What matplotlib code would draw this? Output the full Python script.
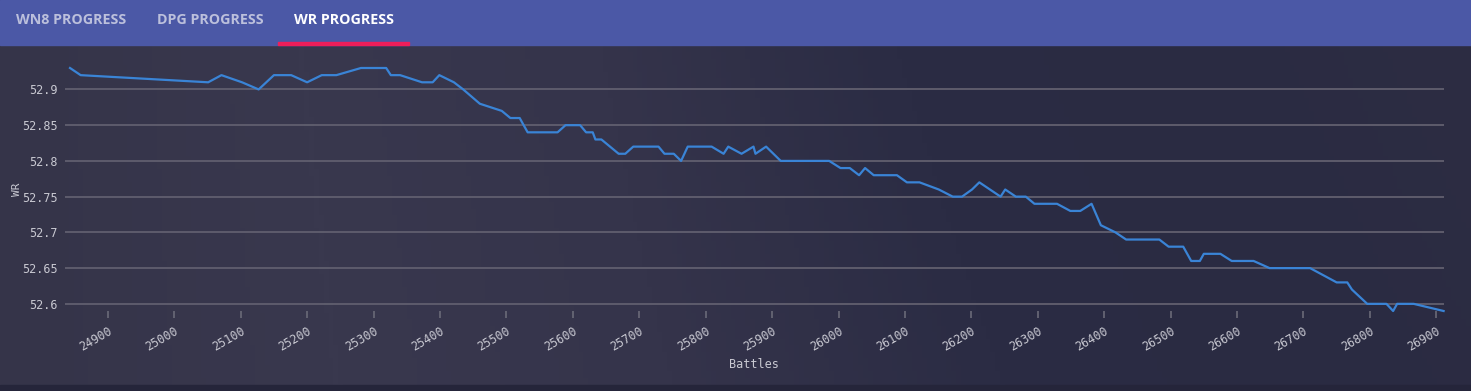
import numpy as np
import matplotlib
matplotlib.use("Agg")
import matplotlib.pyplot as plt
from matplotlib.colors import LinearSegmentedColormap

# WR progress readings (battles, win rate %)
battles = [24843, 24859, 25051, 25071, 25102, 25127, 25150, 25176, 25200, 25222,
           25244, 25281, 25319, 25326, 25340, 25373, 25389, 25399, 25421, 25435,
           25460, 25493, 25506, 25520, 25532, 25577, 25589, 25611, 25620, 25630,
           25634, 25643, 25669, 25679, 25691, 25729, 25738, 25752, 25763, 25773,
           25809, 25827, 25834, 25854, 25872, 25875, 25891, 25913, 25986, 26003,
           26017, 26031, 26040, 26053, 26088, 26103, 26122, 26151, 26172, 26186,
           26201, 26212, 26244, 26251, 26267, 26282, 26295, 26329, 26349, 26364,
           26381, 26395, 26417, 26433, 26483, 26497, 26519, 26531, 26544, 26550,
           26575, 26592, 26625, 26649, 26710, 26730, 26750, 26766, 26773, 26796,
           26825, 26835, 26841, 26866, 26911]
wr = [52.93, 52.92, 52.91, 52.92, 52.91, 52.90, 52.92, 52.92, 52.91, 52.92,
      52.92, 52.93, 52.93, 52.92, 52.92, 52.91, 52.91, 52.92, 52.91, 52.90,
      52.88, 52.87, 52.86, 52.86, 52.84, 52.84, 52.85, 52.85, 52.84, 52.84,
      52.83, 52.83, 52.81, 52.81, 52.82, 52.82, 52.81, 52.81, 52.80, 52.82,
      52.82, 52.81, 52.82, 52.81, 52.82, 52.81, 52.82, 52.80, 52.80, 52.79,
      52.79, 52.78, 52.79, 52.78, 52.78, 52.77, 52.77, 52.76, 52.75, 52.75,
      52.76, 52.77, 52.75, 52.76, 52.75, 52.75, 52.74, 52.74, 52.73, 52.73,
      52.74, 52.71, 52.70, 52.69, 52.69, 52.68, 52.68, 52.66, 52.66, 52.67,
      52.67, 52.66, 52.66, 52.65, 52.65, 52.64, 52.63, 52.63, 52.62, 52.60,
      52.60, 52.59, 52.60, 52.60, 52.59]

x_ticks = list(range(24900, 27000, 100))
y_ticks = [52.6, 52.65, 52.7, 52.75, 52.8, 52.85, 52.9]
y_labels = ["52.6", "52.65", "52.7", "52.75", "52.8", "52.85", "52.9"]
tabs = ["WN8 PROGRESS", "DPG PROGRESS", "WR PROGRESS"]

W, H = 1471, 391
fig = plt.figure(figsize=(W / 100, H / 100), dpi=100)

# page background: dark, slightly cloudy gradient
bg = fig.add_axes([0, 0, 1, 1])
bg_cmap = LinearSegmentedColormap.from_list(
    "bg", ["#353449", "#39384e", "#35344b", "#2b2c44", "#2a2b42", "#2d2d43"])
gx = np.linspace(0, 1, 300)
gy = np.linspace(0, 1, 60)
grad = np.outer(1 - 0.12 * gy, gx)
bg.imshow(grad, cmap=bg_cmap, aspect="auto", extent=[0, 1, 0, 1], origin="upper")
bg.set_xlim(0, 1)
bg.set_ylim(0, 1)
bg.axis("off")

# tab bar
bar_h = 45 / H
bg.add_patch(plt.Rectangle((0, 1 - bar_h), 1, bar_h, color="#4b58a6", zorder=2))
bg.add_patch(plt.Rectangle((278 / W, 1 - 45 / H), (409 - 278) / W, 3 / H,
                           color="#ee1e5a", zorder=3))
bg.add_patch(plt.Rectangle((0, 0), 1, 6 / H, color="#25253a", zorder=2))
tab_x = [16, 157, 294]
for name, tx in zip(tabs, tab_x):
    active = name.startswith("WR")
    bg.text(tx / W, 1 - 20 / H, name, fontsize=10.3, fontweight="bold",
            family="Open Sans", color="#ffffff" if active else "#bcc0dc",
            va="center", ha="left", zorder=4)

# chart
ax = fig.add_axes([64.7 / W, 1 - 311 / H, (1443.6 - 64.7) / W, (311 - 68) / H])
ax.patch.set_alpha(0)
ax.plot(battles, wr, color="#3a84d6", lw=1.6, zorder=3, clip_on=False)
ax.set_xlim(24835, 26911)
ax.set_ylim(52.59, 52.93)

ax.set_yticks(y_ticks)
ax.set_yticklabels(y_labels)
ax.set_xticks(x_ticks)
ax.set_xticklabels([str(t) for t in x_ticks], rotation=30, ha="right",
                   rotation_mode="anchor")
ax.grid(axis="y", color="#5e5c6c", lw=1.4)
ax.grid(axis="x", visible=False)
for s in ax.spines.values():
    s.set_visible(False)

ax.tick_params(axis="y", length=0, pad=5, labelsize=8.5, labelcolor="#c9c9d2")
ax.tick_params(axis="x", length=5, width=1.2, color="#6a6a78", pad=5,
               labelsize=8.5, labelcolor="#c9c9d2")
for lab in ax.get_xticklabels() + ax.get_yticklabels():
    lab.set_family("DejaVu Sans Mono")

ax.set_xlabel("Battles", family="DejaVu Sans Mono", fontsize=8.5, color="#c9c9d2")
ax.xaxis.set_label_coords(0.5, -0.195)
ax.set_ylabel("WR", family="DejaVu Sans Mono", fontsize=8, color="#c9c9d2")
ax.yaxis.set_label_coords(-0.031, 0.5)

fig.savefig("out.png", dpi=100)
